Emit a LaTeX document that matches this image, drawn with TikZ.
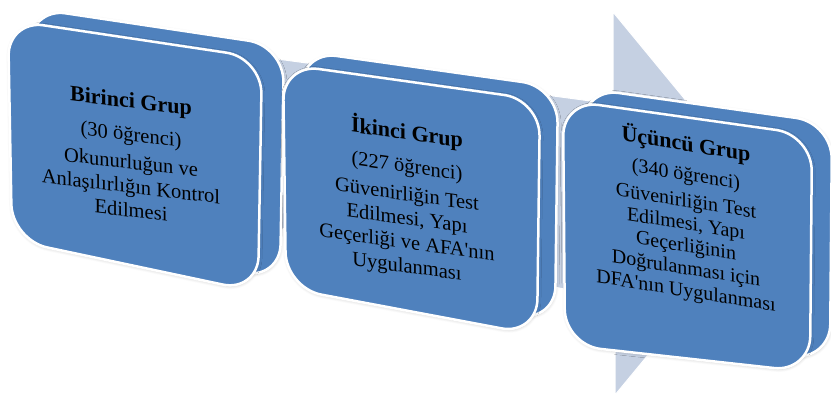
\documentclass[tikz,border=0pt]{standalone}
\usepackage{fontspec}
\setmainfont{Liberation Serif}
\usepackage{tikz}
\usetikzlibrary{
    positioning,
    calc,
    shadows.blur
}
\definecolor{groupBlue}{RGB}{79, 129, 189}
\definecolor{arrowBlue}{RGB}{197, 208, 226}

\tikzset{
    groupface/.style={fill=groupBlue, draw=white, line width=2.5pt, rounded corners=36pt,
        blur shadow={shadow xshift=0.5pt, shadow yshift=-1pt, shadow blur steps=8, shadow blur radius=3pt, shadow opacity=20}},
    grouptext/.style={align=center, font=\fontsize{20.5}{24}\selectfont, text=black}
}

\begin{document}
\begin{tikzpicture}[x=1pt, y=-1pt]
            \useasboundingbox (0,0) rectangle (831,403);

            % big arrow behind the three groups
            \coordinate (S1) at (150,42);
            \coordinate (S2) at (613,104);
            \coordinate (H1) at (613,12);
            \coordinate (T) at (772,205);
            \coordinate (H2) at (615,395);
            \coordinate (S3) at (615,300);
            \coordinate (S4) at (150,200);
            \draw[fill=arrowBlue, draw=white, line width=1pt] (S1)--(S2)--(H1)--(T)--(H2)--(S3)--(S4)--cycle;

            % first group: front face corners
            \coordinate (A1) at (8,20);
            \coordinate (A2) at (262,58);
            \coordinate (A3) at (258,292);
            \coordinate (A4) at (12,240);
            \draw[groupface] ($(A1)+(22,-12)$)--($(A2)+(22,-12)$)--($(A3)+(22,-12)$)--($(A4)+(22,-12)$)--cycle;
            \draw[groupface] (A1)--(A2)--(A3)--(A4)--cycle;
            \node[grouptext, yslant=-0.12] (first) at (131,155)
                {{\fontsize{22}{24}\selectfont\bfseries Birinci Grup}\\[9pt]
                 (30 öğrenci)\\[4pt]
                 Okunurluğun ve\\
                 Anlaşılırlığın Kontrol\\
                 Edilmesi};

            % second group
            \coordinate (B1) at (283,64);
            \coordinate (B2) at (540,100);
            \coordinate (B3) at (537,335);
            \coordinate (B4) at (286,288);
            \draw[groupface] ($(B1)+(18,-13)$)--($(B2)+(18,-13)$)--($(B3)+(18,-13)$)--($(B4)+(18,-13)$)--cycle;
            \draw[groupface] (B1)--(B2)--(B3)--(B4)--cycle;
            \node[grouptext, yslant=-0.14] (second) at (407,199)
                {{\fontsize{22}{24}\selectfont\bfseries İkinci Grup}\\[9pt]
                 (227 öğrenci)\\[4pt]
                 Güvenirliğin Test\\
                 Edilmesi, Yapı\\
                 Geçerliği ve AFA\textquotesingle nın\\
                 Uygulanması};

            % third group
            \coordinate (C1) at (563,100);
            \coordinate (C2) at (812,135);
            \coordinate (C3) at (810,372);
            \coordinate (C4) at (565,345);
            \draw[groupface] ($(C1)+(20,-12)$)--($(C2)+(20,-12)$)--($(C3)+(20,-12)$)--($(C4)+(20,-12)$)--cycle;
            \draw[groupface] (C1)--(C2)--(C3)--(C4)--cycle;
            \node[grouptext, yslant=-0.16, font=\fontsize{20}{22.5}\selectfont] (third) at (686,217)
                {{\fontsize{22}{24}\selectfont\bfseries Üçüncü Grup}\\[7pt]
                 (340 öğrenci)\\[4pt]
                 Güvenirliğin Test\\
                 Edilmesi, Yapı\\
                 Geçerliğinin\\
                 Doğrulanması için\\
                 DFA\textquotesingle nın Uygulanması};
        \end{tikzpicture}
\end{document}
